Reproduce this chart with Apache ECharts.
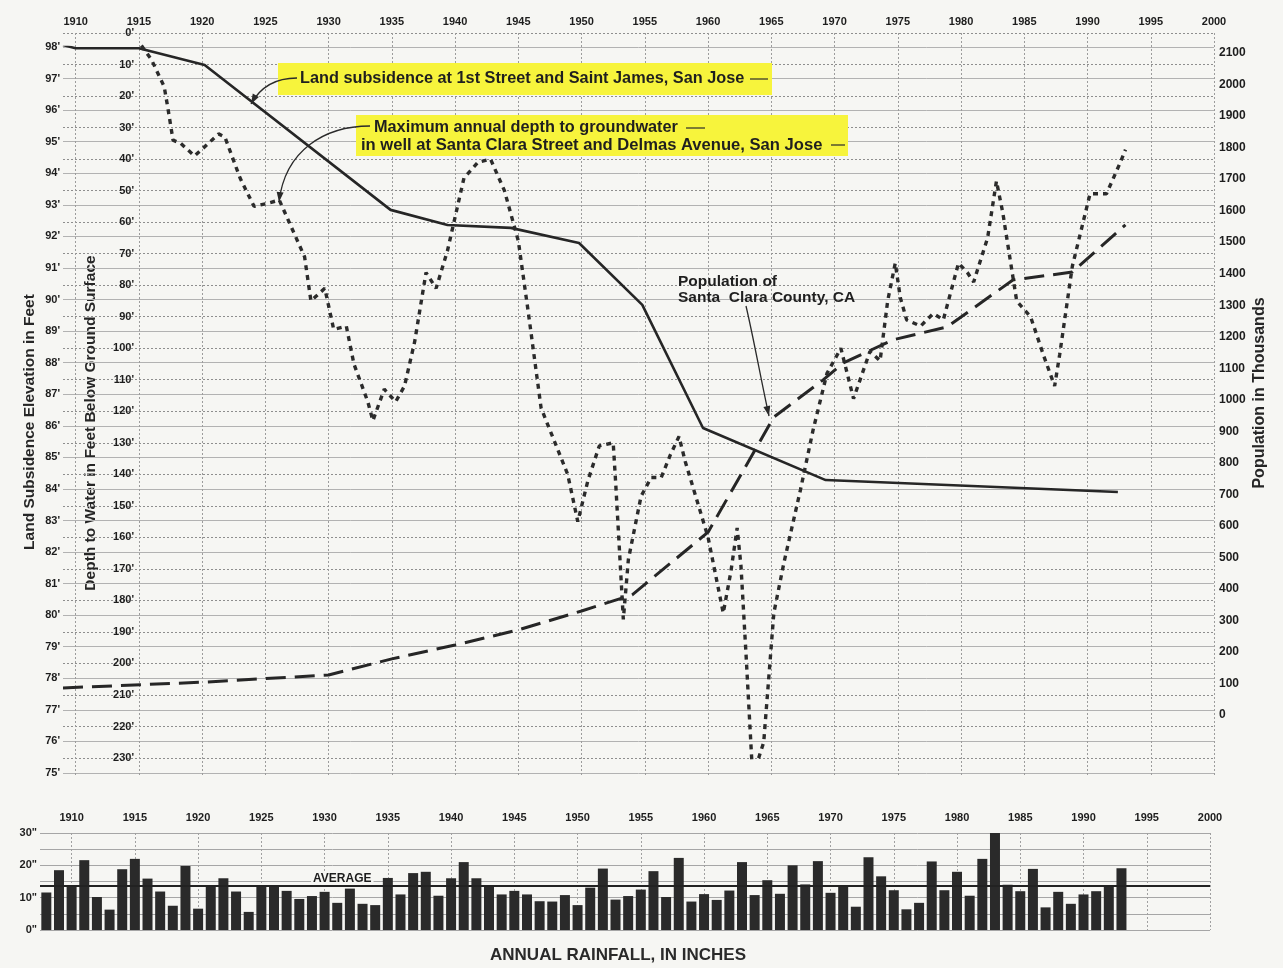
<!DOCTYPE html>
<html>
<head>
<meta charset="utf-8">
<title>Land subsidence, groundwater depth and population — San Jose</title>
<script src="https://cdn.jsdelivr.net/npm/echarts@6/dist/echarts.min.js"></script>
<style>
  html, body { margin: 0; padding: 0; background: #f6f6f3; }
  #chart { width: 1283px; height: 968px; }
</style>
</head>
<body>
<div id="chart"></div>
<script>
// ---- Data -------------------------------------------------------------

// Year ticks shared by both panels
const yearTicks = [1910, 1915, 1920, 1925, 1930, 1935, 1940, 1945, 1950, 1955,
                   1960, 1965, 1970, 1975, 1980, 1985, 1990, 1995, 2000];

// Benchmark elevation at 1st Street and Saint James (feet)
const subsidenceYears = [1909, 1910, 1915, 1920.2, 1934.9, 1939.4, 1944.4, 1949.8, 1954.8, 1959.6, 1969.3, 1992.4];
const subsidenceFeet  = [98.06, 97.96, 97.96, 97.43, 92.84, 92.36, 92.27, 91.79, 89.83, 85.93, 84.28, 83.9];

// Maximum annual depth to groundwater, Santa Clara St. & Delmas Ave. (feet below surface)
const depthYears = [1915.2, 1916.0, 1917.0, 1917.3, 1917.7, 1918.3, 1919.4, 1920.5, 1921.3, 1921.8,
                    1923.0, 1924.1, 1925.2, 1926.1, 1927.1, 1928.1, 1928.6, 1929.7, 1930.4, 1931.4,
                    1932.0, 1933.1, 1933.5, 1934.4, 1935.3, 1936.0, 1936.8, 1937.7, 1938.5, 1939.4,
                    1940.7, 1941.8, 1942.8, 1943.9, 1945.0, 1945.8, 1946.8, 1947.8, 1948.9, 1949.7,
                    1950.5, 1951.4, 1952.5, 1952.7, 1953.3, 1953.7, 1954.7, 1955.5, 1956.3, 1957.0,
                    1957.7, 1958.2, 1959.4, 1960.0, 1961.2, 1961.8, 1962.3, 1962.6, 1963.0, 1963.5,
                    1964.0, 1964.4, 1965.2, 1966.0, 1967.3, 1968.3, 1969.4, 1970.5, 1971.5, 1972.8,
                    1973.6, 1974.2, 1974.8, 1975.2, 1975.7, 1976.8, 1977.8, 1978.6, 1979.8, 1980.5,
                    1981.0, 1982.1, 1982.8, 1983.3, 1984.4, 1985.5, 1986.5, 1987.4, 1987.8, 1988.8,
                    1990.2, 1991.5, 1992.6, 1993.0];
const depthFeet  = [4, 8.5, 17, 24, 34, 35, 39, 35, 32, 33,
                    46, 55, 54, 53, 62, 71, 85, 81, 94, 93,
                    105, 117, 123, 113, 117, 112, 98, 76, 81, 69,
                    46, 41, 40, 50, 66, 89, 119, 129, 140, 155,
                    142, 131, 130, 143, 186, 167, 147, 141, 141, 134,
                    128, 136, 152, 160, 184, 171, 157, 169, 197, 234,
                    230, 225, 184, 168, 145, 126, 108, 100, 116, 101,
                    104, 85, 73, 84, 91, 93, 89, 91, 73, 76,
                    79, 65, 47, 57, 85, 90, 102, 112, 102, 74,
                    51, 51, 41, 37];

// Population of Santa Clara County (thousands)
const popYears     = [1909, 1920, 1930, 1935, 1940, 1945, 1950, 1954, 1960, 1965.2, 1969.1, 1970.7, 1974.6, 1978.9, 1984.1, 1988.8, 1993];
const popThousands = [86, 104, 127, 178, 222, 270, 330, 381, 580, 945, 1063, 1117, 1190, 1231, 1380, 1405, 1555];

// Annual rainfall, San Jose (inches), 1908-1993
const rainYears = [1908, 1909, 1910, 1911, 1912, 1913, 1914, 1915, 1916, 1917, 1918, 1919, 1920, 1921,
                   1922, 1923, 1924, 1925, 1926, 1927, 1928, 1929, 1930, 1931, 1932, 1933, 1934, 1935,
                   1936, 1937, 1938, 1939, 1940, 1941, 1942, 1943, 1944, 1945, 1946, 1947, 1948, 1949,
                   1950, 1951, 1952, 1953, 1954, 1955, 1956, 1957, 1958, 1959, 1960, 1961, 1962, 1963,
                   1964, 1965, 1966, 1967, 1968, 1969, 1970, 1971, 1972, 1973, 1974, 1975, 1976, 1977,
                   1978, 1979, 1980, 1981, 1982, 1983, 1984, 1985, 1986, 1987, 1988, 1989, 1990, 1991,
                   1992, 1993];
const rainInches = [11.6, 18.5, 13.4, 21.6, 10.2, 6.3, 18.8, 22.0, 15.9, 11.9, 7.5, 19.8, 6.6, 13.3,
                    16.0, 11.9, 5.6, 13.3, 13.3, 12.1, 9.6, 10.5, 11.8, 8.4, 12.8, 8.1, 7.7, 16.1,
                    11.0, 17.6, 18.0, 10.6, 16.0, 21.0, 16.0, 13.4, 11.0, 12.1, 11.0, 8.9, 8.8, 10.8,
                    7.7, 13.1, 19.0, 9.4, 10.5, 12.5, 18.2, 10.2, 22.3, 8.8, 11.1, 9.3, 12.2, 21.0,
                    10.8, 15.4, 11.2, 20.0, 14.1, 21.3, 11.5, 13.5, 7.2, 22.5, 16.6, 12.3, 6.4, 8.4,
                    21.2, 12.3, 18.0, 10.6, 22.0, 31.7, 14.0, 12.0, 18.9, 7.0, 11.8, 8.1, 11.0, 12.0,
                    13.8, 19.1];
const rainAverage = 13.8;

// ---- Styling --------------------------------------------------------------

const FONT = '"Liberation Sans", Arial, Helvetica, sans-serif';
const INK = '#1d1d1d';
const BG = '#f6f6f3';
const HIGHLIGHT = '#f7f43c';

const tickLabel = { fontFamily: FONT, fontSize: 11, fontWeight: 'bold', color: INK };
const plain = v => String(v);
const hiddenX = (gridIndex) => ({
  gridIndex, type: 'value', min: 1909, max: 2000, show: false,
  splitLine: { show: false }
});

function pairs(xs, ys) { return xs.map((x, i) => [x, ys[i]]); }

// Arrow head polygon pointing from (fx,fy) toward (tx,ty)
function arrowHead(tx, ty, fx, fy, len, wid) {
  const a = Math.atan2(ty - fy, tx - fx);
  const bx = tx - len * Math.cos(a), by = ty - len * Math.sin(a);
  const nx = -Math.sin(a) * wid / 2, ny = Math.cos(a) * wid / 2;
  return {
    type: 'polygon', z: 60, silent: true,
    shape: { points: [[tx, ty], [bx + nx, by + ny], [bx - nx, by - ny]] },
    style: { fill: '#2a2a2a' }
  };
}
function leader(x1, y1, c1x, c1y, c2x, c2y, x2, y2) {
  return [
    { type: 'bezierCurve', z: 60, silent: true,
      shape: { x1, y1, cpx1: c1x, cpy1: c1y, cpx2: c2x, cpy2: c2y, x2, y2 },
      style: { stroke: '#2a2a2a', lineWidth: 1.3, fill: null } },
    arrowHead(x2, y2, c2x, c2y, 10, 7)
  ];
}
function note(x, y, text, size) {
  return { type: 'text', x, y, z: 61, silent: true,
    style: { text, fontFamily: FONT, fontSize: size || 16.3, fontWeight: 'bold',
             fill: '#1f1f1f', verticalAlign: 'middle' } };
}
function dash(x1, x2, y) {
  return { type: 'line', z: 61, silent: true, shape: { x1, y1: y, x2, y2: y },
    style: { stroke: '#2a2a2a', lineWidth: 1.2 } };
}
function vTitle(x, y, text, size) {
  return { type: 'text', x, y, rotation: Math.PI / 2, silent: true,
    style: { text, fontFamily: FONT, fontSize: size, fontWeight: 'bold', fill: '#262626',
             align: 'center', verticalAlign: 'middle' } };
}

// ---- Chart ----------------------------------------------------------------

const chart = echarts.init(document.getElementById('chart'), null, { renderer: 'canvas' });

const option = {
  backgroundColor: BG,
  animation: false,
  textStyle: { fontFamily: FONT },
  grid: [
    { left: 63, right: 69, top: 47, height: 726 },   // 0: elevation 98'..75'
    { left: 63, right: 69, top: 33, height: 725 },   // 1: depth 0'..230'
    { left: 63, right: 69, top: 53, height: 662 },   // 2: population 2100..0
    { left: 40, right: 73, top: 833, height: 97 },   // 3: rainfall
    { left: 63, right: 69, top: 33, height: 744 }    // 4: upper frame (year axis)
  ],
  xAxis: [
    hiddenX(0),
    hiddenX(1),
    hiddenX(2),
    {
      gridIndex: 3, type: 'value', min: 1907.5, max: 2000, position: 'top',
      axisLine: { show: false },
      axisTick: { show: false, customValues: yearTicks },
      axisLabel: Object.assign({ customValues: yearTicks, margin: 10, formatter: plain }, tickLabel),
      splitLine: { show: true, lineStyle: { color: '#a0a0a0', type: [2, 2], width: 1 } }
    },
    {
      gridIndex: 4, type: 'value', min: 1909, max: 2000, position: 'top',
      axisLine: { show: false },
      axisTick: { show: false, customValues: yearTicks },
      axisLabel: Object.assign({ customValues: yearTicks, margin: 6, formatter: plain }, tickLabel),
      splitLine: { show: true, lineStyle: { color: '#9c9c9c', type: [2, 2], width: 1 } }
    }
  ],
  yAxis: [
    {
      gridIndex: 0, type: 'value', min: 75, max: 98, interval: 1,
      axisLine: { show: false }, axisTick: { show: false },
      axisLabel: Object.assign({ margin: 3, formatter: v => v + "'" }, tickLabel),
      splitLine: { show: true, lineStyle: { color: '#b2b2b2', width: 1 } }
    },
    {
      gridIndex: 1, type: 'value', inverse: true, min: 0, max: 230, interval: 10,
      offset: -74,
      axisLine: { show: false }, axisTick: { show: false },
      axisLabel: Object.assign({ margin: 3, formatter: v => v + "'" }, tickLabel),
      splitLine: { show: true, lineStyle: { color: '#8e8e8e', type: [2, 2], width: 1 } }
    },
    {
      gridIndex: 2, type: 'value', position: 'right', min: 0, max: 2100, interval: 100,
      axisLine: { show: false }, axisTick: { show: false },
      axisLabel: Object.assign({}, tickLabel, { margin: 5, fontSize: 12, formatter: plain }),
      splitLine: { show: false }
    },
    {
      gridIndex: 3, type: 'value', min: 0, max: 30, interval: 5,
      axisLine: { show: false }, axisTick: { show: false },
      axisLabel: Object.assign({ margin: 3, formatter: v => (v % 10 === 0 ? v + '"' : '') }, tickLabel),
      splitLine: { show: true, lineStyle: { color: '#a6a6a6', width: 1 } }
    },
    { gridIndex: 4, type: 'value', min: 0, max: 1, show: false, splitLine: { show: false } }
  ],
  series: [
    {
      name: 'Land subsidence', type: 'line', xAxisIndex: 0, yAxisIndex: 0,
      data: pairs(subsidenceYears, subsidenceFeet),
      symbol: 'none', z: 4,
      lineStyle: { color: '#262626', width: 2.6 }
    },
    {
      name: 'Depth to groundwater', type: 'line', xAxisIndex: 1, yAxisIndex: 1,
      data: pairs(depthYears, depthFeet),
      symbol: 'none', z: 5,
      lineStyle: { color: '#2b2b2b', width: 3.4, type: [5, 5] }
    },
    {
      name: 'Population', type: 'line', xAxisIndex: 2, yAxisIndex: 2,
      data: pairs(popYears, popThousands),
      symbol: 'none', z: 4,
      lineStyle: { color: '#262626', width: 3, type: [20, 9] }
    },
    {
      name: 'Annual rainfall', type: 'bar', xAxisIndex: 3, yAxisIndex: 3,
      data: pairs(rainYears, rainInches),
      barWidth: 10,
      itemStyle: { color: '#2a2a2a' },
      markLine: {
        silent: true, symbol: 'none',
        lineStyle: { color: '#222', width: 2, type: 'solid' },
        label: { show: false },
        data: [{ yAxis: rainAverage }]
      },
      markPoint: {
        silent: true, symbol: 'circle', symbolSize: 0,
        label: {
          show: true, position: 'top', distance: 1, formatter: 'AVERAGE',
          fontFamily: FONT, fontSize: 12, fontWeight: 'bold', color: INK,
          backgroundColor: BG, padding: [0, 2]
        },
        data: [{ coord: [1931.4, rainAverage] }]
      }
    }
  ],
  graphic: [
    vTitle(30, 422, 'Land Subsidence Elevation in Feet', 15.5),
    vTitle(91, 423, 'Depth to Water in Feet Below Ground Surface', 15.5),
    vTitle(1260, 393, 'Population in Thousands', 16),
    { type: 'text', x: 618, y: 955, silent: true,
      style: { text: 'ANNUAL RAINFALL, IN INCHES', fontFamily: FONT, fontSize: 17, fontWeight: 'bold',
               fill: '#2a2a2a', align: 'center', verticalAlign: 'middle' } },

    // Land subsidence note
    { type: 'rect', z: 58, silent: true, shape: { x: 278, y: 63, width: 494, height: 32 }, style: { fill: HIGHLIGHT } },
    note(300, 79, 'Land subsidence at 1st Street and Saint James, San Jose'),
    dash(750, 768, 79),
    ...leader(297, 78, 280, 78, 262, 84, 251, 104),

    // Groundwater note
    { type: 'rect', z: 58, silent: true, shape: { x: 356, y: 115, width: 492, height: 41 }, style: { fill: HIGHLIGHT } },
    note(374, 128, 'Maximum annual depth to groundwater'),
    dash(686, 705, 128),
    note(361, 145, 'in well at Santa Clara Street and Delmas Avenue, San Jose', 16.6),
    dash(831, 845, 145),
    ...leader(370, 126, 325, 126, 285, 150, 279, 202),

    // Population note
    note(678, 282, 'Population of', 15.5),
    note(678, 298, 'Santa  Clara County, CA', 15.5),
    ...leader(746, 306, 754, 340, 762, 385, 769, 416)
  ]
};

chart.setOption(option);
</script>
</body>
</html>
